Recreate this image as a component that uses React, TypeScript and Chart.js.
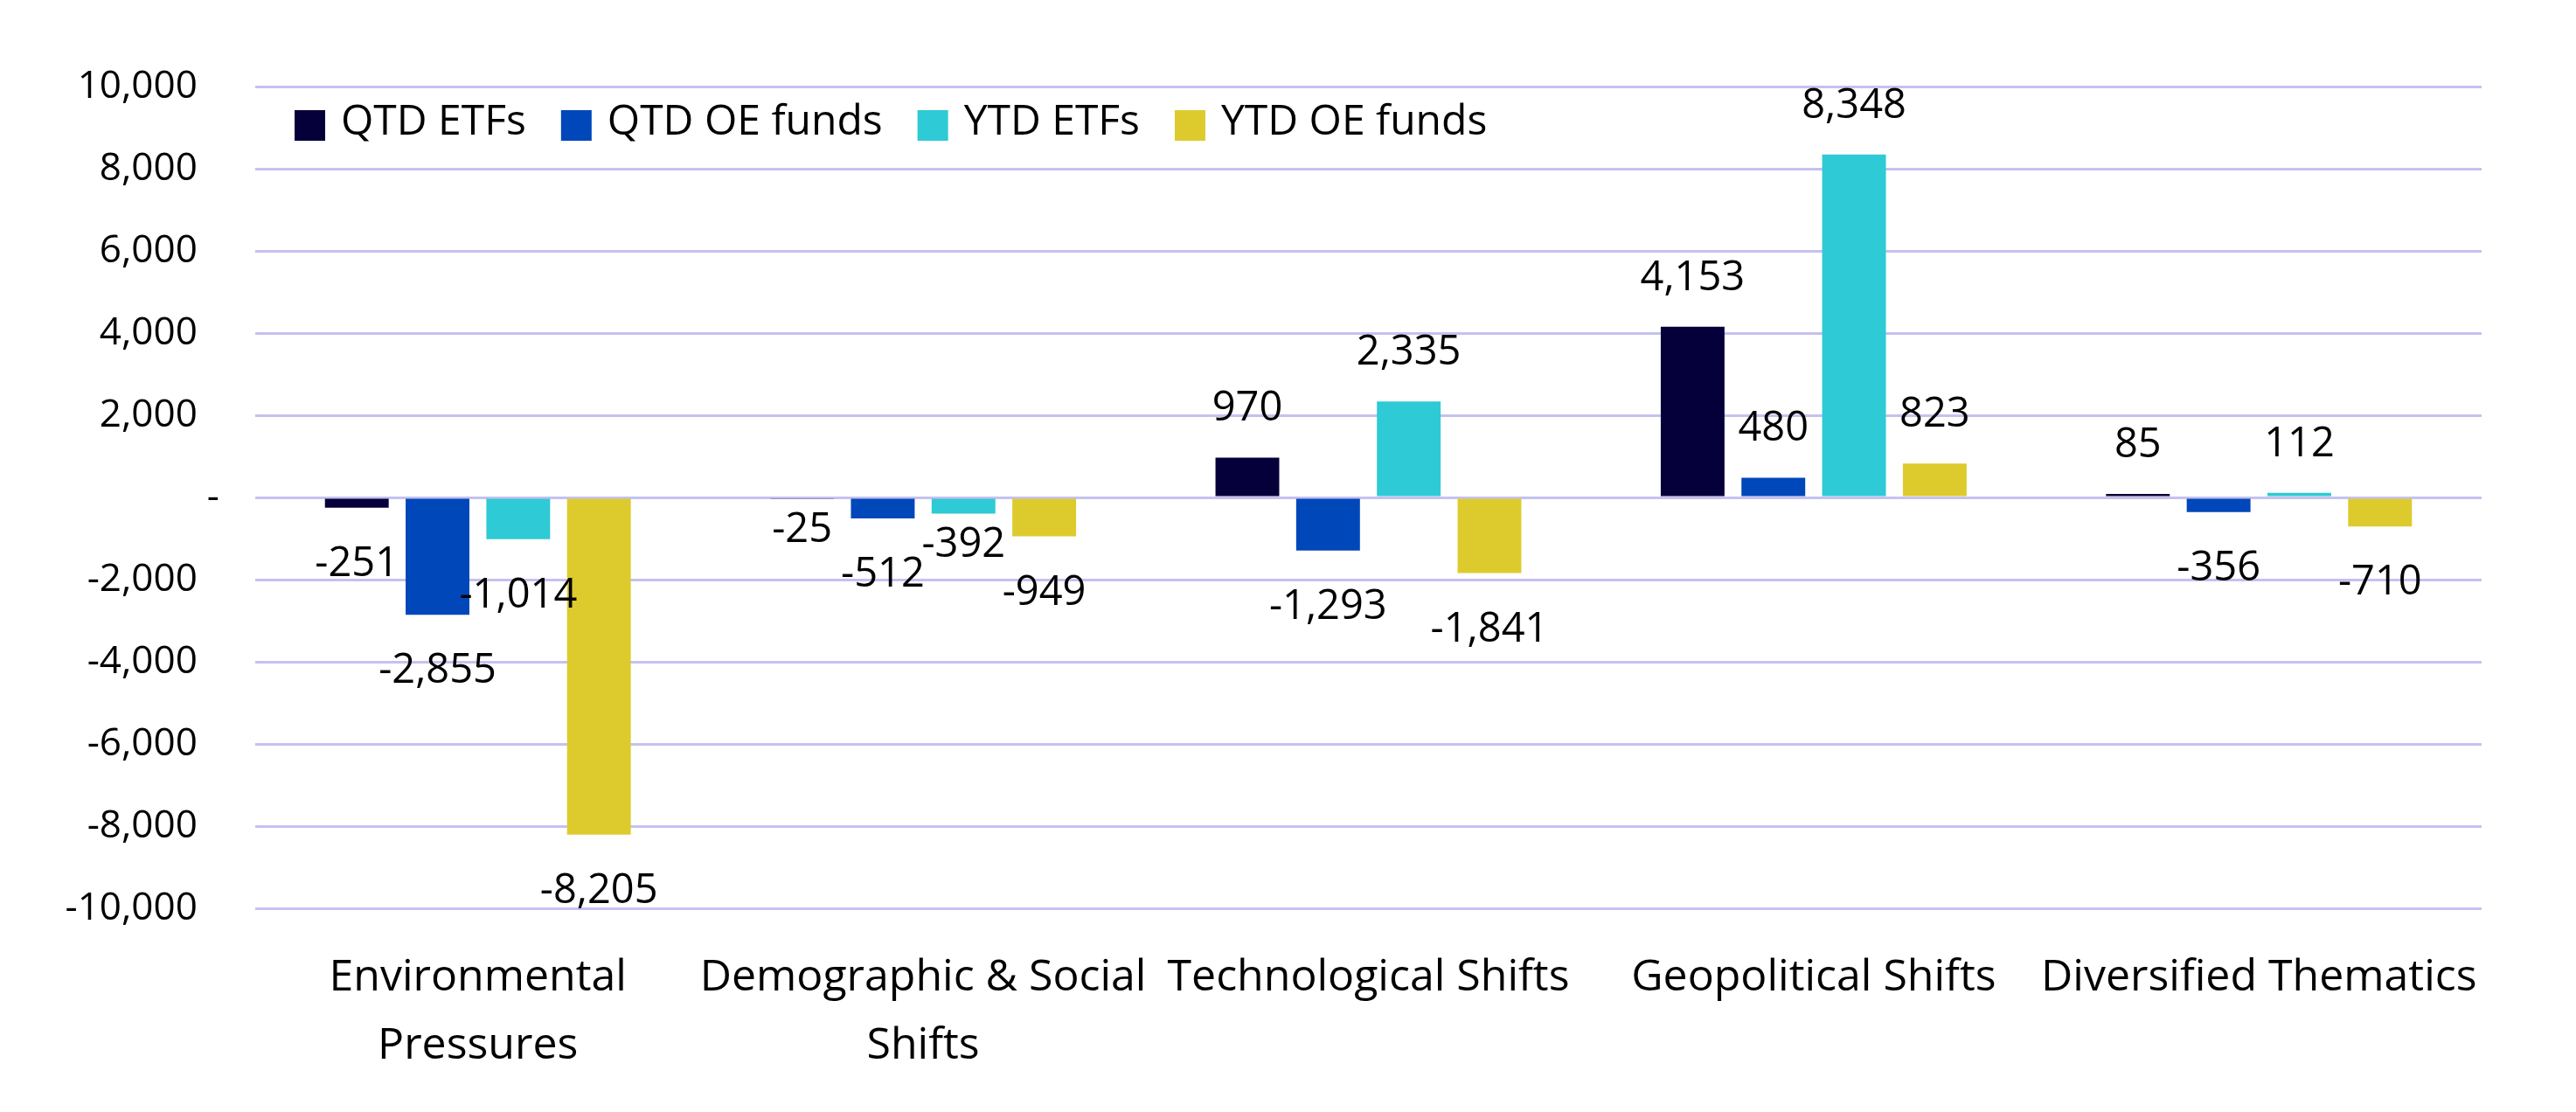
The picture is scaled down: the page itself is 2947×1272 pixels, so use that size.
import { useEffect, useRef } from 'react';
import { Chart, registerables } from 'chart.js';

Chart.register(...registerables);

// Theme categories (wrapped onto lines as printed under the axis)
const categories: string[][] = [
  ['Environmental', 'Pressures'],
  ['Demographic & Social', 'Shifts'],
  ['Technological Shifts'],
  ['Geopolitical Shifts'],
  ['Diversified Thematics'],
];

// Net flows per theme
const seriesNames = ['QTD ETFs', 'QTD OE funds', 'YTD ETFs', 'YTD OE funds'];
const qtdEtfs = [-251, -25, 970, 4153, 85];
const qtdOeFunds = [-2855, -512, -1293, 480, -356];
const ytdEtfs = [-1014, -392, 2335, 8348, 112];
const ytdOeFunds = [-8205, -949, -1841, 823, -710];

// Value axis
const yMin = -10000;
const yMax = 10000;
const yStep = 2000;

const seriesColors = ['#06003A', '#0047BA', '#2ECAD5', '#DDCB2E'];
const gridColor = '#C5C1F0';
const FONT = '"Open Sans", "Noto Sans", sans-serif';
const LABEL_SIZE = 47;
const LEGEND_SIZE = 48;
const XTICK_SIZE = 50;
const YTICK_SIZE = 44;

const fmt = new Intl.NumberFormat('en-US');

// a few labels sit closer to their bars to keep clear of neighbours
const labelNudge: Record<string, number> = { '0-1': -28, '2-1': -28 };

const valueLabels = {
  id: 'valueLabels',
  afterDatasetsDraw(chart: Chart) {
    const ctx = chart.ctx;
    ctx.save();
    ctx.font = `${LABEL_SIZE}px ${FONT}`;
    ctx.fillStyle = '#000';
    ctx.textAlign = 'center';
    ctx.textBaseline = 'alphabetic';
    chart.data.datasets.forEach((ds, di) => {
      const meta = chart.getDatasetMeta(di);
      meta.data.forEach((el: any, i: number) => {
        const v = ds.data[i] as number;
        const nudge = labelNudge[`${di}-${i}`] || 0;
        const y = v >= 0 ? el.y - 42 : el.y + 78 + nudge;
        ctx.fillText(fmt.format(v), el.x, y);
      });
    });
    ctx.restore();
  },
};

const insideLegend = {
  id: 'insideLegend',
  afterDraw(chart: Chart) {
    const ctx = chart.ctx;
    const area = chart.chartArea;
    ctx.save();
    ctx.font = `${LEGEND_SIZE}px ${FONT}`;
    ctx.textAlign = 'left';
    ctx.textBaseline = 'alphabetic';
    let x = area.left + 45;
    const boxTop = area.top + 27;
    const box = 35;
    chart.data.datasets.forEach((ds) => {
      ctx.fillStyle = ds.backgroundColor as string;
      ctx.fillRect(x, boxTop, box, box);
      const tx = x + box + 18;
      ctx.fillStyle = '#000';
      ctx.fillText(ds.label as string, tx, boxTop + 28);
      x = tx + ctx.measureText(ds.label as string).width + 40;
    });
    ctx.restore();
  },
};

export default function App() {
  const canvasRef = useRef<HTMLCanvasElement>(null);

  useEffect(() => {
    let chart: Chart | null = null;
    let cancelled = false;
    const build = () => {
      if (cancelled || !canvasRef.current) return;
      const series = [qtdEtfs, qtdOeFunds, ytdEtfs, ytdOeFunds];
      chart = new Chart(canvasRef.current, {
        type: 'bar',
        data: {
          labels: categories,
          datasets: series.map((data, i) => ({
            label: seriesNames[i],
            data,
            backgroundColor: seriesColors[i],
            borderWidth: 0,
            categoryPercentage: 0.725,
            barPercentage: 0.79,
          })),
        },
        options: {
          responsive: false,
          animation: false,
          layout: { padding: { top: 99, right: 108, bottom: 0, left: 0 } },
          plugins: {
            legend: { display: false },
            tooltip: { enabled: false },
          },
          scales: {
            x: {
              grid: { display: false, drawTicks: false },
              border: { display: false },
              ticks: {
                color: '#000',
                font: { family: FONT, size: XTICK_SIZE, lineHeight: 78 / XTICK_SIZE },
                padding: 41,
                maxRotation: 0,
                autoSkip: false,
              },
              afterFit: (s: any) => {
                s.height = 233;
              },
            },
            y: {
              min: yMin,
              max: yMax,
              grid: { color: gridColor, lineWidth: 3, drawTicks: false },
              border: { display: false },
              ticks: {
                stepSize: yStep,
                color: '#000',
                padding: 41,
                font: { family: FONT, size: YTICK_SIZE },
                callback: (v: any) => (Number(v) === 0 ? '-' : fmt.format(Number(v)) + '\u2007'),
              },
              afterFit: (s: any) => {
                s.width = 292;
              },
            },
          },
        },
        plugins: [valueLabels, insideLegend],
      });
    };
    document.fonts.load(`${LABEL_SIZE}px "Open Sans"`).then(build, build);
    return () => {
      cancelled = true;
      if (chart) chart.destroy();
    };
  }, []);

  return (
    <div style={{ position: 'absolute', left: 0, top: 0, width: 2947, height: 1272, background: '#fff' }}>
      <canvas ref={canvasRef} width={2947} height={1272} style={{ display: 'block' }} />
    </div>
  );
}
